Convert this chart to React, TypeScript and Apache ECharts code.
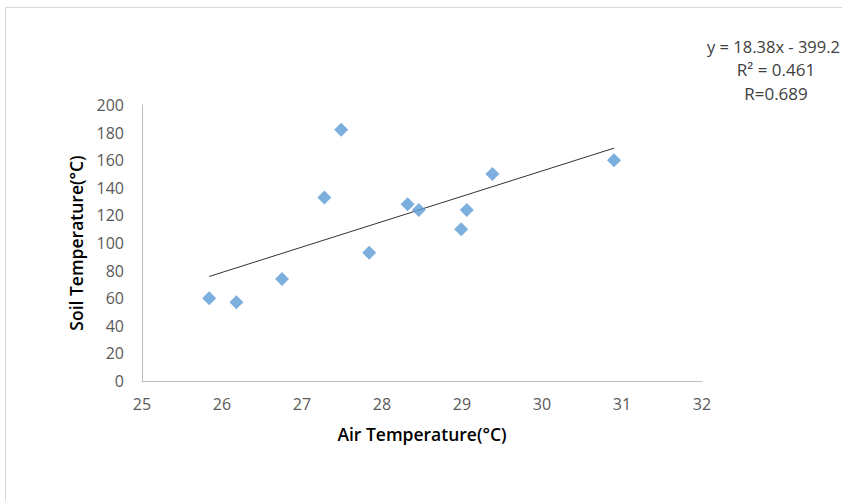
import React, { useEffect, useRef } from "react";
import * as echarts from "echarts";

const airTemp: number[] = [25.84, 26.18, 26.75, 27.28, 27.49, 27.84, 28.32, 28.46, 28.99, 29.06, 29.38, 30.9];
const soilTemp: number[] = [60, 57, 74, 133, 182, 93, 128, 124, 110, 124, 150, 160];
const slope = 18.38;
const intercept = -399.2;
const equationLines: string[] = ["y = 18.38x - 399.2", "R² = 0.461", "R=0.689"];
const xTitle = "Air Temperature(°C)";
const yTitle = "Soil Temperature(°C)";

export default function App() {
  const ref = useRef<HTMLDivElement>(null);
  useEffect(() => {
    document.body.style.margin = "0";
    if (!ref.current) return;
    const chart = echarts.init(ref.current, undefined, { renderer: "svg" });
    const xs = [Math.min(...airTemp), Math.max(...airTemp)];
    const trend = xs.map((x) => [x, slope * x + intercept]);
    const font = "'Open Sans', Lato, sans-serif";
    chart.setOption({
      animation: false,
      backgroundColor: "#ffffff",
      textStyle: { fontFamily: font },
      grid: { left: 142, right: 140, top: 105, bottom: 120, containLabel: false },
      xAxis: {
        type: "value",
        min: 25,
        max: 32,
        interval: 1,
        name: xTitle,
        nameLocation: "middle",
        nameGap: 44,
        nameTextStyle: { fontFamily: font, fontSize: 17.5, fontWeight: 600, color: "#000" },
        axisLine: { show: true, lineStyle: { color: "#bfbfbf", width: 1 } },
        axisTick: { show: false },
        splitLine: { show: false },
        axisLabel: { fontFamily: font, fontSize: 16, color: "#595959", margin: 15 },
      },
      yAxis: {
        type: "value",
        min: 0,
        max: 200,
        interval: 20,
        name: yTitle,
        nameLocation: "middle",
        nameGap: 57,
        nameRotate: 90,
        nameTextStyle: { fontFamily: font, fontSize: 17.5, fontWeight: 600, color: "#000" },
        axisLine: { show: true, lineStyle: { color: "#bfbfbf", width: 1 } },
        axisTick: { show: false },
        splitLine: { show: false },
        axisLabel: { fontFamily: font, fontSize: 16, color: "#595959", margin: 18 },
      },
      graphic: [
        {
          type: "rect",
          shape: { x: 5.5, y: 7.5, width: 1000, height: 1000 },
          style: { fill: "none", stroke: "#d9d9d9", lineWidth: 1 },
          silent: true,
        },
        ...equationLines.map((t, i) => ({
          type: "text",
          x: i === 0 ? 840 : 776,
          y: 46 + i * 23.5,
          style: {
            text: t,
            fontFamily: font,
            fontSize: i === 0 ? 16.5 : 17,
            fill: "#404040",
            align: i === 0 ? "right" : "center",
            verticalAlign: "middle",
          },
        })),
      ],
      series: [
        {
          type: "line",
          data: trend,
          symbol: "none",
          lineStyle: { color: "#333333", width: 1 },
          z: 1,
        },
        {
          type: "scatter",
          data: airTemp.map((x, i) => [x, soilTemp[i]]),
          symbol: "diamond",
          symbolSize: 14,
          itemStyle: { color: "#5b9bd5" },
          z: 2,
        },
      ],
    });
    return () => chart.dispose();
  }, []);
  return <div ref={ref} style={{ width: 842, height: 501 }} />;
}
